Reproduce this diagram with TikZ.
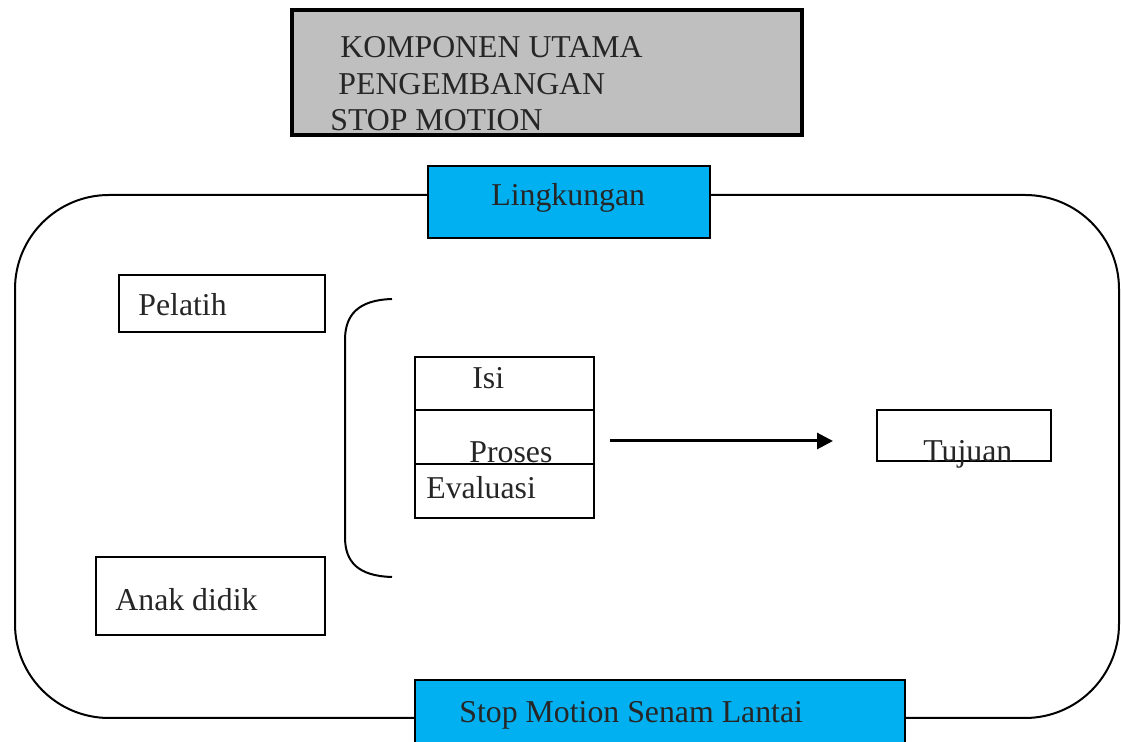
\documentclass[tikz,border=0pt]{standalone}
\usepackage{fontspec}
\setmainfont{Liberation Serif}
\usetikzlibrary{arrows.meta, positioning}
\definecolor{boxgray}{HTML}{BFBFBF}
\definecolor{boxcyan}{HTML}{00B0F0}
\tikzset{
  cell/.style   = {rectangle, draw=black, line width=1pt, inner sep=0pt,
                   outer sep=0pt},
  title/.style  = {cell, fill=boxgray, line width=1.6pt},
  banner/.style = {cell, fill=boxcyan},
  txt/.style    = {inner sep=0pt, anchor=base west, text=black!85,
                   font=\fontsize{15.9}{19}\selectfont},
  arrow/.style  = {-{Triangle[length=8pt,width=8pt]}, line width=1.5pt},
  frame/.style  = {line width=1pt, rounded corners=47pt},
}
\begin{document}
\begin{tikzpicture}[x=0.5pt, y=-0.5pt]
    \useasboundingbox (0,0) rectangle (1121,742);

    % outer frame
    \draw[frame] (15,195) rectangle (1119,718);

    % title
    \node[title, minimum width=255pt, minimum height=62.5pt]
      (judul) at (547,72.5) {};
    \node[txt] (judul1) at (340,58)  {KOMPONEN UTAMA};
    \node[txt] (judul2) at (338,95)  {PENGEMBANGAN};
    \node[txt] (judul3) at (330,131) {STOP MOTION};

    \node[banner, minimum width=141pt, minimum height=36pt]
      (lingkungan) at (569,202) {};
    \node[txt] (lingkungantext) at (491,206) {Lingkungan};

    \node[banner, minimum width=245pt, minimum height=40pt, anchor=north west]
      (media) at (415,680) {};
    \node[txt] (mediatext) at (459,723) {Stop Motion Senam Lantai};

    % actors
    \node[cell, minimum width=103pt, minimum height=28.5pt]
      (pelatih) at (222,303.5) {};
    \node[txt] (pelatihtext) at (138,316) {Pelatih};

    \node[cell, minimum width=114.5pt, minimum height=39pt]
      (anak) at (210.5,596) {};
    \node[txt] (anaktext) at (115,611) {Anak didik};

    % bracket
    \draw[line width=1pt] (392,299) .. controls (358,300) and (345,315) .. (345,340)
      -- (345,537) .. controls (345,562) and (358,576) .. (392,577);

    % components
    \node[cell, minimum width=89.5pt, minimum height=26.5pt, anchor=north west]
      (isi) at (415,357) {};
    \node[cell, minimum width=89.5pt, minimum height=27pt, below=0pt of isi]
      (proses) {};
    \node[cell, minimum width=89.5pt, minimum height=27pt, below=0pt of proses]
      (evaluasi) {};
    \node[txt] (isitext)      at (472,389) {Isi};
    \node[txt] (prosestext)   at (469,463) {Proses};
    \node[txt] (evaluasitext) at (426,499) {Evaluasi};

    \node[cell, minimum width=87pt, minimum height=25.5pt]
      (tujuan) at (964,435.5) {};
    \node[txt] (tujuantext) at (923,462) {Tujuan};

    \coordinate (panahawal) at ([xshift=8pt, yshift=-2pt]proses.east);
    \draw[arrow] (panahawal) -- ([xshift=-22pt]panahawal -| tujuan.west);

  \end{tikzpicture}
\end{document}
